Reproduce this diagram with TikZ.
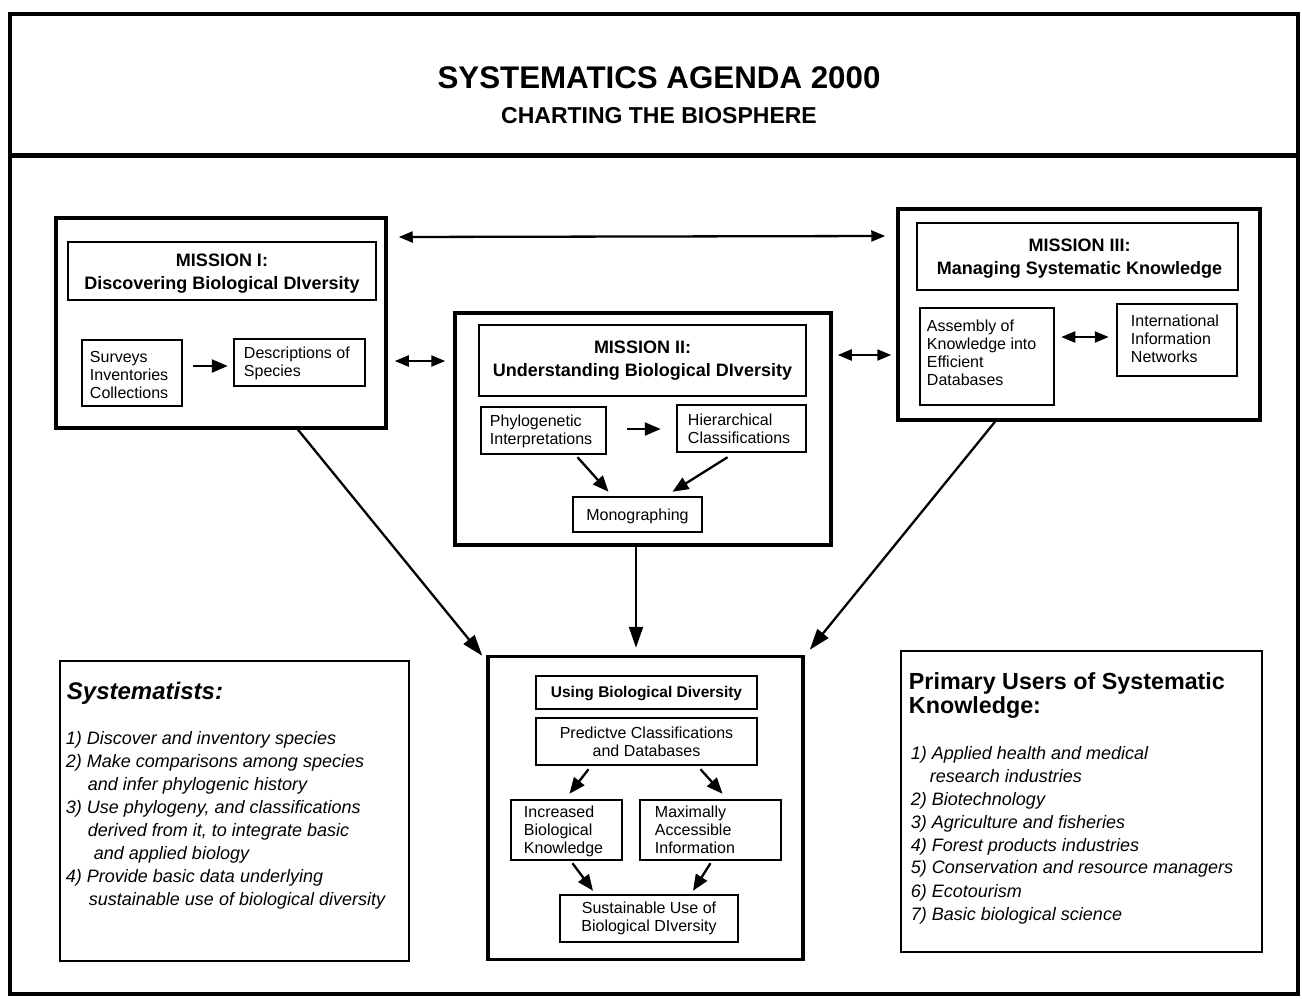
\documentclass[tikz,border=0pt]{standalone}
\usepackage{fontspec}
\setmainfont{Liberation Sans}
\usetikzlibrary{arrows.meta,calc}
\begin{document}
\begin{tikzpicture}[x=1pt,y=-1pt,
  bigbox/.style={draw, line width=3.5pt, inner sep=0pt},
  ibox/.style={draw, line width=2.5pt, inner sep=0pt},
  ttl/.style={font=\bfseries\fontsize{18}{23}\selectfont, align=center, inner sep=0pt},
  txt/.style={font=\fontsize{16}{18}\selectfont, align=left, inner sep=0pt, anchor=west},
  ctxt/.style={font=\fontsize{16}{18}\selectfont, align=center, inner sep=0pt},
  lst/.style={font=\itshape\fontsize{18}{23}\selectfont, inner sep=0pt, anchor=base west},
  arr/.style={-{Triangle[length=16pt,width=13pt]}, line width=2.3pt},
  darr/.style={{Triangle[length=14pt,width=11pt]}-{Triangle[length=14pt,width=11pt]}, line width=2.3pt},
  larr/.style={-{Triangle[length=21pt,width=14pt]}, line width=2.3pt}
]
\useasboundingbox (0,0) rectangle (1302,999);
% outer frame
\draw[line width=4.5pt] (10,14) rectangle (1298,994);
\draw[line width=5pt] (10,155) -- (1298,155);
\node[font=\bfseries\fontsize{31.3}{36}\selectfont, inner sep=0pt] (title) at (659,78) {SYSTEMATICS AGENDA 2000};
\node[font=\bfseries\fontsize{23}{27}\selectfont, inner sep=0pt] (subtitle) at (659,116) {CHARTING THE BIOSPHERE};

% Mission I
\node[bigbox, minimum width=330pt, minimum height=210pt] (m1) at (221,323) {};
\node[ibox, minimum width=308pt, minimum height=58pt] (m1t) at (222,271) {};
\node[ttl] (m1tt) at ($(m1t)+(0,3)$) {MISSION I:\\Discovering Biological DIversity};
\node[ibox, minimum width=100pt, minimum height=66pt] (m1a) at (132,373) {};
\node[txt] (m1at) at ($(m1a.west)+(9,2)$) {Surveys\\Inventories\\Collections};
\node[ibox, minimum width=131pt, minimum height=47pt] (m1b) at (299.5,362.5) {};
\node[txt] (m1bt) at ($(m1b.west)+(11,1)$) {Descriptions of\\Species};
\draw[arr] ($(m1a.east)+(10,-7)$) -- ($(m1b.west)+(-5,3.5)$);

% Mission II
\node[bigbox, minimum width=376pt, minimum height=232pt] (m2) at (643,429) {};
\node[ibox, minimum width=327pt, minimum height=71pt] (m2t) at (642.5,360.5) {};
\node[ttl] (m2tt) at (m2t) {MISSION II:\\Understanding Biological DIversity};
\node[ibox, minimum width=125pt, minimum height=47pt] (m2a) at (543.5,430.5) {};
\node[txt] (m2at) at ($(m2a.west)+(10,0.5)$) {Phylogenetic\\Interpretations};
\node[ibox, minimum width=129pt, minimum height=47pt] (m2b) at (741.5,428.5) {};
\node[txt] (m2bt) at ($(m2b.west)+(12,0.5)$) {Hierarchical\\Classifications};
\node[ibox, minimum width=129pt, minimum height=35pt] (m2c) at (637.5,514.5) {};
\node[ctxt] (m2ct) at ($(m2c)+(0,2)$) {Monographing};
\draw[arr] ($(m2a.east)+(20,-1.5)$) -- ($(m2b.west)+(-15,0.5)$);
\draw[arr] ($(m2a.south)+(34,2)$) -- ($(m2c.north)+(-29,-4)$);
\draw[arr] ($(m2b.south)+(-14,4)$) -- ($(m2c.north)+(35,-4)$);

% Mission III
\node[bigbox, minimum width=362pt, minimum height=211pt] (m3) at (1079,314.5) {};
\node[ibox, minimum width=321pt, minimum height=67pt] (m3t) at (1077.5,256.5) {};
\node[ttl] (m3tt) at ($(m3t)+(2,2.5)$) {MISSION III:\\Managing Systematic Knowledge};
\node[ibox, minimum width=134pt, minimum height=97pt] (m3a) at (987,356.5) {};
\node[txt] (m3at) at ($(m3a.west)+(8,-4)$) {Assembly of\\Knowledge into\\Efficient\\Databases};
\node[ibox, minimum width=120pt, minimum height=72pt] (m3b) at (1177,340) {};
\node[txt] (m3bt) at ($(m3b.west)+(15,-1)$) {International\\Information\\Networks};
\draw[darr] ($(m3a.east)+(6,-19.5)$) -- ($(m3b.west)+(-7,-3)$);

% connectors between missions
\draw[darr] ($(m1.east)+(11,-86)$) -- ($(m3.west)+(-11,-78.5)$);
\draw[darr] ($(m1.east)+(7,38)$) -- ($(m2.west)+(-8,-68)$);
\draw[darr] ($(m2.east)+(5,-74)$) -- ($(m3.west)+(-5,40.5)$);

% Using box
\node[bigbox, minimum width=315pt, minimum height=303pt] (u) at (645.5,808) {};
\node[ibox, minimum width=221pt, minimum height=33pt] (ut) at (646.5,692.5) {};
\node[font=\bfseries\fontsize{15.5}{18}\selectfont, inner sep=0pt] (utt) at ($(ut)+(0,1.5)$) {Using Biological Diversity};
\node[ibox, minimum width=221pt, minimum height=47pt] (up) at (646.5,741.5) {};
\node[ctxt] (upt) at (up) {Predictve Classifications\\and Databases};
\node[ibox, minimum width=111pt, minimum height=60pt] (ui) at (566.5,830) {};
\node[txt] (uit) at ($(ui.west)+(14,1)$) {Increased\\Biological\\Knowledge};
\node[ibox, minimum width=141pt, minimum height=60pt] (um) at (710.5,830) {};
\node[txt] (umt) at ($(um.west)+(16,0)$) {Maximally\\Accessible\\Information};
\node[ibox, minimum width=178pt, minimum height=47pt] (us) at (649,918.5) {};
\node[ctxt] (ust) at (us) {Sustainable Use of\\Biological DIversity};
\draw[arr] ($(up.south)+(-58,3)$) -- ($(ui.north)+(3,-5)$);
\draw[arr] ($(up.south)+(54,3)$) -- ($(um.north)+(12,-5)$);
\draw[arr] ($(ui.south)+(6,2)$) -- ($(us.north)+(-56,-3)$);
\draw[arr] ($(um.south)+(0,2)$) -- ($(us.north)+(44,-3)$);

% long arrows
\draw[larr] ($(m1.south)+(77,0)$) -- ($(u.north west)+(-4,1)$);
\draw[larr] ($(m2.south)+(-7,0)$) -- ($(u.north)+(-9.5,-7)$);
\draw[larr] ($(m3.south)+(-84,0)$) -- ($(u.north east)+(5,-5)$);

% Systematists
\node[ibox, minimum width=349pt, minimum height=300pt] (sy) at (234.5,811) {};
\node[font=\bfseries\itshape\fontsize{24}{28}\selectfont, inner sep=0pt, anchor=base west] (syh) at ($(sy.north west)+(8,40)$) {Systematists:};
\foreach \i/\dx/\dy/\t in {
  1/7/85/{1) Discover and inventory species},
  2/7/108/{2) Make comparisons among species},
  3/29/131/{and infer phylogenic history},
  4/7/154/{3) Use phylogeny, and classifications},
  5/29/177/{derived from it, to integrate basic},
  6/35/200/{and applied biology},
  7/7/223/{4) Provide basic data underlying},
  8/30/246/{sustainable use of biological diversity}}
  \node[lst] (sy\i) at ($(sy.north west)+(\dx,\dy)$) {\t};

% Primary users
\node[ibox, minimum width=361pt, minimum height=301pt] (pu) at (1081.5,801.5) {};
\node[font=\bfseries\fontsize{23.3}{25}\selectfont, inner sep=0pt, anchor=base west] (puh) at ($(pu.north west)+(9,40)$) {Primary Users of Systematic};
\node[font=\bfseries\fontsize{23.3}{25}\selectfont, inner sep=0pt, anchor=base west] (puh2) at ($(pu.north west)+(9,64)$) {Knowledge:};
\foreach \i/\dx/\dy/\t in {
  1/11/110/{1) Applied health and medical},
  2/30/133/{research industries},
  3/11/156/{2) Biotechnology},
  4/11/179/{3) Agriculture and fisheries},
  5/11/202/{4) Forest products industries},
  6/11/224/{5) Conservation and resource managers},
  7/11/248/{6) Ecotourism},
  8/11/271/{7) Basic biological science}}
  \node[lst] (pu\i) at ($(pu.north west)+(\dx,\dy)$) {\t};
\end{tikzpicture}
\end{document}
